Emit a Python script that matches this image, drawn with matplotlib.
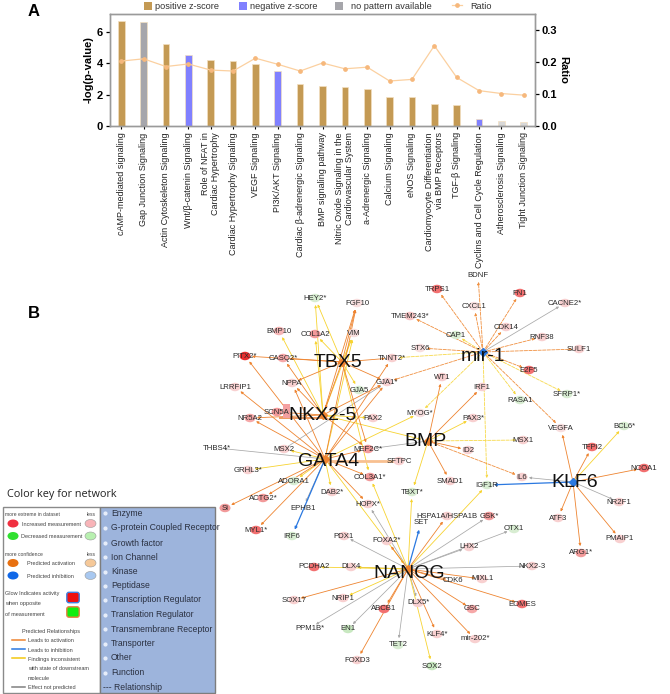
import matplotlib
matplotlib.use("Agg")
import matplotlib.pyplot as plt
from matplotlib.patches import Ellipse, Rectangle, FancyBboxPatch, FancyArrowPatch

plt.rcParams['font.family'] = ['Liberation Sans', 'DejaVu Sans']

# ---------- Panel A data ----------
pathways = ["cAMP-mediated signaling", "Gap Junction Signaling", "Actin Cytoskeleton Signaling",
            "Wnt/β-catenin Signaling", "Role of NFAT in\nCardiac Hypertrophy",
            "Cardiac Hypertrophy Signaling", "VEGF Signaling", "PI3K/AKT Signaling",
            "Cardiac β-adrenergic Signaling", "BMP signaling pathway",
            "Nitric Oxide Signaling in the\nCardiovascular System", "a-Adrenergic Signaling",
            "Calcium Signaling", "eNOS Signaling",
            "Cardiomyocyte Differentiation\nvia BMP Receptors", "TGF-β Signaling",
            "Cyclins and Cell Cycle Regulation", "Atherosclerosis Signaling", "Tight Junction Signaling"]
log_p = [6.7, 6.6, 5.25, 4.5, 4.18, 4.15, 3.95, 3.5, 2.65, 2.52,
         2.47, 2.33, 1.85, 1.83, 1.42, 1.32, 0.43, 0.32, 0.25]
ratio = [0.202, 0.209, 0.185, 0.193, 0.174, 0.171, 0.211, 0.192, 0.171, 0.196,
         0.178, 0.183, 0.140, 0.145, 0.250, 0.151, 0.110, 0.101, 0.096]
pattern = ["pos", "none", "pos", "neg", "pos", "pos", "pos", "neg", "pos", "pos",
           "pos", "pos", "pos", "pos", "pos", "pos", "neg", "faint", "faint"]
pattern_colors = {"pos": "#c49a54", "neg": "#8080ff", "none": "#a6a6ab", "faint": "#d8d8d8"}

# ---------- Panel B network ----------
nodes = [
 ("HEY2*",315,298,"#d8edd2"),("FGF10",357,303,"#f8dede"),("TMEM243*",410,316,"#f6c4c4"),
 ("BMP10",279,331,"#f5b5b5"),("COL1A2",315,334,"#f29a9a"),("VIM",354,333,"#f8dede"),
 ("PITX2*",245,356,"#e83030"),("CASQ2*",283,358,"#f6a8a8"),("TNNT2*",392,358,"#f8d0d0"),
 ("STX6",420,348,"#f8dede"),("NPPA",292,383,"#f8d0d0"),("GJA1*",387,382,"#f8d0d0"),
 ("GJA5",359,390,"#d8edd2"),("LRRFIP1",235,387,"#f8d0d0"),("SCN5A",277,412,"#f29a9a"),
 ("NR5A2",250,418,"#f6a8a8"),("PAX2",373,418,"#f8d0d0"),("MYOG*",420,413,"#f8dede"),
 ("THBS4*",217,448,"#ffffff"),("MSX2",284,449,"#f8d0d0"),("MEF2C*",368,449,"#f29a9a"),
 ("SFTPC",399,461,"#f8d0d0"),("GRHL3*",248,470,"#f8d0d0"),("COL3A1*",370,477,"#f29a9a"),
 ("ADORA1",294,481,"#d8edd2"),("DAB2*",332,492,"#f8d0d0"),("TBXT*",412,492,"#d8edd2"),
 ("ACTG2*",263,498,"#f29a9a"),("HOPX*",368,504,"#f8d0d0"),("EPHB1",303,508,"#ffffff"),
 ("Si",225,508,"#f29a9a"),("MYL1*",256,530,"#f27070"),("IRF6",292,536,"#d8edd2"),
 ("PDX1",344,536,"#f8d0d0"),("FOXA2*",387,541,"#f8d0d0"),("SET",421,523,"#ffffff"),
 ("HSPA1A/HSPA1B",447,516,"#f8d0d0"),("GSK*",489,516,"#f29a9a"),("PCDHA2",314,567,"#f27070"),
 ("DLX4",351,567,"#f8d0d0"),("SOX17",294,600,"#f8d0d0"),("NRIP1",343,598,"#f8d0d0"),
 ("ABCB1",384,609,"#f27070"),("DLX5*",418,603,"#f8d0d0"),("PPM1B*",310,628,"#ffffff"),
 ("EN1",348,629,"#c8e8c0"),("TET2",398,645,"#d8edd2"),("KLF4*",437,634,"#f8d0d0"),
 ("FOXD3",357,660,"#f8d0d0"),("SOX2",432,666,"#c8e8c0"),("mir-202*",475,639,"#f8d0d0"),
 ("GSC",472,609,"#f6a8a8"),("EOMES",522,604,"#f27070"),("CDK6",453,581,"#ffffff"),
 ("MIXL1",482,579,"#f8d0d0"),("NKX2-3",532,566,"#f8d0d0"),("LHX2",469,547,"#f8d0d0"),
 ("OTX1",514,529,"#d8edd2"),("IGF1R",487,485,"#d8edd2"),("IL6",522,477,"#f8d0d0"),
 ("SMAD1",450,481,"#f8d0d0"),("NR2F1",619,502,"#f8d0d0"),("ATF3",558,518,"#f8d0d0"),
 ("PMAIP1",620,539,"#f8d0d0"),("ARG1*",581,553,"#f29a9a"),("TFPI2",592,447,"#f27070"),
 ("BCL6*",624,426,"#d8edd2"),("NCOA1",644,468,"#f27070"),("VEGFA",561,428,"#f8dede"),
 ("ID2",468,450,"#f8d0d0"),("MSX1",523,440,"#f8d0d0"),("PAX3*",473,418,"#f8d0d0"),
 ("IRF1",482,387,"#f8d0d0"),("WT1",442,377,"#f8d0d0"),("RASA1",520,400,"#d8edd2"),
 ("SFRP1*",567,394,"#d8edd2"),("E2F5",529,370,"#f27070"),("SULF1",579,349,"#f8d0d0"),
 ("RNF38",542,337,"#f8d0d0"),("CACNE2*",565,303,"#f8d0d0"),("CDK14",506,327,"#f8d0d0"),
 ("CXCL1",474,306,"#f8dede"),("FN1",520,293,"#f27070"),("BDNF",478,275,"#ffffff"),
 ("TRPS1",437,289,"#f27070"),("CAP1",456,335,"#d8edd2"),
]
hubs = [("TBX5",338,362,342,362),("NKX2-5",323,415,323,415),("GATA4",329,461,325,459),
        ("BMP",426,441,428,441),("mir-1",483,356,483,352),("KLF6",575,482,573,482),
        ("NANOG",409,573,408,569)]

edges_orange = [("TBX5","FGF10"),("TBX5","CASQ2*"),("TBX5","TNNT2*"),("TBX5","NPPA"),("TBX5","NKX2-5"),
 ("TBX5","PITX2*"),("TBX5","GJA1*"),("TBX5","MEF2C*"),("NKX2-5","NPPA"),("NKX2-5","NR5A2"),("NKX2-5","SCN5A"),
 ("NKX2-5","CASQ2*"),("NKX2-5","GJA1*"),("NKX2-5","MEF2C*"),("NKX2-5","FGF10"),("GATA4","PITX2*"),("GATA4","LRRFIP1"),
 ("GATA4","NR5A2"),("GATA4","NPPA"),("GATA4","ACTG2*"),("GATA4","Si"),("GATA4","MYL1*"),("GATA4","COL3A1*"),
 ("GATA4","HOPX*"),("GATA4","MEF2C*"),("GATA4","GJA1*"),("GATA4","TNNT2*"),("GATA4","FGF10"),("BMP","WT1"),("BMP","IRF1"),
 ("BMP","ID2"),("BMP","SMAD1"),("KLF6","VEGFA"),("KLF6","TFPI2"),("KLF6","NCOA1"),("KLF6","ATF3"),("KLF6","PMAIP1"),
 ("KLF6","ARG1*"),("NANOG","HSPA1A/HSPA1B"),("NANOG","MIXL1"),("NANOG","CDK6"),("NANOG","EOMES"),("NANOG","GSC"),
 ("NANOG","mir-202*"),("NANOG","KLF4*"),("NANOG","FOXD3"),("NANOG","ABCB1"),("NANOG","SOX17"),("NANOG","FOXA2*")]
edges_orange_dashed = [("BMP","IL6"),("mir-1","TRPS1"),("mir-1","BDNF"),("mir-1","CXCL1"),("mir-1","FN1"),("mir-1","CDK14"),
 ("mir-1","RNF38"),("mir-1","SULF1"),("mir-1","E2F5"),("mir-1","VEGFA"),("mir-1","TMEM243*"),("mir-1","STX6"),("mir-1","GJA1*")]
edges_yellow = [("TBX5","HEY2*"),("TBX5","COL1A2"),("TBX5","VIM"),("TBX5","GJA5"),("TBX5","COL3A1*"),("NKX2-5","BMP10"),
 ("NKX2-5","COL1A2"),("NKX2-5","VIM"),("NKX2-5","PAX2"),("NKX2-5","BMP"),("NKX2-5","HEY2*"),("GATA4","MSX2"),("GATA4","GRHL3*"),
 ("GATA4","ADORA1"),("GATA4","DAB2*"),("GATA4","MYOG*"),("GATA4","VIM"),("GATA4","NANOG"),("BMP","PAX3*"),("BMP","TBXT*"),
 ("KLF6","BCL6*"),("NANOG","TBXT*"),("NANOG","IGF1R"),("NANOG","SOX2"),("NANOG","NRIP1"),("NANOG","DLX4"),("NANOG","PCDHA2"),
 ("NANOG","COL3A1*")]
edges_yellow_dashed = [("BMP","MSX1"),("mir-1","SFRP1*"),("mir-1","RASA1"),("mir-1","CAP1"),("mir-1","TNNT2*"),
 ("mir-1","MYOG*"),("mir-1","IGF1R")]
edges_grey = [("GATA4","THBS4*"),("GATA4","EPHB1"),("MSX2","GJA1*"),("BMP","MEF2C*"),("mir-1","CACNE2*"),("KLF6","IL6"),
 ("KLF6","NR2F1"),("NANOG","GSK*"),("NANOG","OTX1"),("NANOG","LHX2"),("NANOG","NKX2-3"),("NANOG","TET2"),("NANOG","DLX5*"),
 ("NANOG","EN1"),("NANOG","PPM1B*"),("NANOG","PDX1"),("NANOG","HOPX*"),("NANOG","DLX4")]
edges_blue = [("GATA4","IRF6"),("KLF6","IGF1R"),("NANOG","SET")]

# ---------- Colour key text ----------
key_types = ["Enzyme", "G-protein Coupled Receptor", "Growth factor", "Ion Channel", "Kinase", "Peptidase",
             "Transcription Regulator", "Translation Regulator", "Transmembrane Receptor", "Transporter",
             "Other", "Function"]

W, H = 670, 694
fig = plt.figure(figsize=(W / 100, H / 100), dpi=100)

# ---------- Panel A ----------
L, R, T, B = 110, 535, 13.5, 126
ax = fig.add_axes([L / W, 1 - B / H, (R - L) / W, (B - T) / H])
x = list(range(len(pathways)))
ax.bar(x, log_p, width=0.3, color=[pattern_colors[p] for p in pattern], edgecolor="#f3dfc0", linewidth=0.5)
ax.set_xlim(-0.5, 18.5)
ax.set_ylim(0, 7.17)
ax.set_yticks([0, 2, 4, 6])
ax.set_xticks(x)
ax.set_xticklabels(pathways, rotation=90, fontsize=6.5, color="#222222", ha="center", va="top", multialignment="right",
                   linespacing=1.15)
ax.set_ylabel("-log(p-value)", fontsize=8, fontweight="bold", labelpad=2)
ax.tick_params(axis="y", labelsize=8, length=3, width=0.9, pad=2)
ax.tick_params(axis="x", length=2.5, width=0.8, pad=2)
for lab in ax.get_yticklabels():
    lab.set_fontweight("bold")
for s in ax.spines.values():
    s.set_color("#9a9a9a")
    s.set_linewidth(1.0)

ax2 = ax.twinx()
line, = ax2.plot(x, ratio, color="#fbd0a0", linewidth=0.9, marker="o", markersize=2.4,
                 markerfacecolor="#f6b87c", markeredgecolor="#f6b87c")
ax2.set_ylim(0, 0.35)
ax2.set_yticks([0, 0.1, 0.2, 0.3])
ax2.set_yticklabels(["0.0", "0.1", "0.2", "0.3"], fontweight="bold", fontsize=8)
ax2.tick_params(axis="y", length=3, width=0.9, pad=2)
ax2.set_ylabel("Ratio", fontsize=8, fontweight="bold", rotation=-90, labelpad=8)
for s in ax2.spines.values():
    s.set_color("#9a9a9a")
    s.set_linewidth(1.0)

# ---------- Overlay in figure pixels ----------
ov = fig.add_axes([0, 0, 1, 1], zorder=5)
ov.set_xlim(0, W)
ov.set_ylim(H, 0)
ov.axis("off")
ov.patch.set_alpha(0)

ov.text(28, 11, "A", fontsize=12, fontweight="bold", va="center")
ov.text(28, 313, "B", fontsize=12, fontweight="bold", va="center")

# legend along the top
for px, c, lbl, tx in [(144, "#c49a54", "positive z-score", 155), (239, "#8080ff", "negative z-score", 250),
                       (335, "#a6a6ab", "no pattern available", 351)]:
    ov.add_patch(Rectangle((px, 2), 8, 8, color=c, lw=0))
    ov.text(tx, 6, lbl, fontsize=6.6, va="center", color="#333333")
ov.plot([452, 462], [5, 5], color="#fbd0a0", lw=0.9)
ov.plot([457], [5], marker="o", ms=2.4, color="#f6b87c")
ov.text(470, 6, "Ratio", fontsize=6.6, va="center", color="#333333")

# network
pos = {n: (px, py) for n, px, py, _ in nodes}
for n, _, _, ax_, ay_ in hubs:
    pos[n] = (ax_, ay_)


def draw_edges(edges, color, dashed=False, lw=0.6):
    for a, b in edges:
        p = FancyArrowPatch(pos[a], pos[b], arrowstyle="-|>", mutation_scale=3.5, color=color, lw=lw,
                            linestyle=(0, (4, 1.5)) if dashed else "-", shrinkA=0, shrinkB=5, zorder=2)
        ov.add_patch(p)


draw_edges(edges_grey, "#a8a8a8", lw=0.55)
draw_edges(edges_yellow, "#f7d330")
draw_edges(edges_yellow_dashed, "#f7d94a", dashed=True)
draw_edges(edges_orange, "#ee8430")
draw_edges(edges_orange_dashed, "#f09040", dashed=True)
draw_edges(edges_blue, "#2a78e0", lw=0.9)
ov.plot([325, 399], [461, 461], color="#f8c090", lw=2.0, zorder=2)
ov.plot([280, 323], [418, 418], color="#ee9a60", lw=1.4, zorder=2)
ov.add_patch(Rectangle((283, 404), 7, 14, color="#f4a0a0", lw=0, zorder=3))

for n, px, py, c in nodes:
    if c != "#ffffff":
        ov.add_patch(Ellipse((px, py), 11, 8.5, color=c, lw=0, zorder=3))
    ov.text(px, py, n, fontsize=5.5 if n.startswith("HSPA") else 5.6, ha="center", va="center", color="#2a2a2a", zorder=4)

for n, tx, ty, ax_, ay_ in hubs:
    ov.plot([ax_], [ay_], marker="D", ms=4.5, color="#2a78e0" if n in ("KLF6", "mir-1") else "#ee8430", zorder=3)
    ov.text(tx, ty, n, fontsize=14, ha="center", va="center", color="#111111", zorder=4)

# ---------- Colour key ----------
ov.text(7, 494, "Color key for network", fontsize=7.8, family="Open Sans", va="center", color="#222222")
ov.add_patch(Rectangle((3, 507), 97, 186, fc="white", ec="#8a8a8a", lw=1.0))
ov.add_patch(Rectangle((100, 507), 115, 186, fc="#9db4dc", ec="#7d7d7d", lw=1.0))

small = dict(fontsize=3.6, color="#444444", va="center")
mid = dict(fontsize=4.0, color="#444444", va="center")
ov.text(5, 514, "more extreme in dataset", **small)
ov.text(87, 514, "less", **small)
ov.text(5, 554, "more confidence", **small)
ov.text(87, 554, "less", **small)
for cy, c1, c2, lbl, lx in [(523.5, "#f03040", "#f8b4b8", "Increased measurement", 22),
                            (536, "#30e030", "#b8f0b0", "Decreased measurement", 21),
                            (563, "#e87010", "#f5c898", "Predicted activation", 27),
                            (575.5, "#1068e8", "#a8c8f0", "Predicted inhibition", 27)]:
    ov.add_patch(Ellipse((13, cy), 11, 8, color=c1, lw=0))
    ov.add_patch(Ellipse((90.5, cy), 11, 8, fc=c2, ec="#999999", lw=0.4))
    ov.text(lx, cy + 0.5, lbl, **mid)
for ty, s in [(594, "Glow Indicates activity"), (604, "when opposite"), (614, "of measurement")]:
    ov.text(5, ty, s, **mid)
for cy, c, g in [(597.5, "#ee1010", "#4080e0"), (612, "#10ee10", "#e88040")]:
    ov.add_patch(FancyBboxPatch((69, cy - 3), 8, 6, boxstyle="round,pad=2.2", fc=c, ec=g, lw=1.0))
ov.text(51, 631, "Predicted Relationships", ha="center", **mid)
for ly, c in [(640, "#ee8430"), (649, "#2a78e0"), (658, "#f2c810"), (687, "#808080")]:
    ov.plot([12, 25], [ly, ly], color=c, lw=1.1)
for ty, s in [(641, "Leads to activation"), (650, "Leads to inhibition"), (659.5, "Findings inconsistent"),
              (669, "with state of downstream"), (678, "molecule"), (688, "Effect not predicted")]:
    ov.text(28, ty, s, **mid)

key_y = [513, 528, 543, 557, 571.5, 586, 600, 614.5, 629, 644, 658, 672.5]
for ty, s in zip(key_y, key_types):
    ov.text(111, ty, s, fontsize=6.2, va="center", color="#2a3040")
    ov.plot([105], [ty], marker="o", ms=2, color="#e8eefa")
ov.text(103, 687, "--- Relationship", fontsize=6.2, va="center", color="#2a3040")

fig.savefig("out.png", dpi=100)
